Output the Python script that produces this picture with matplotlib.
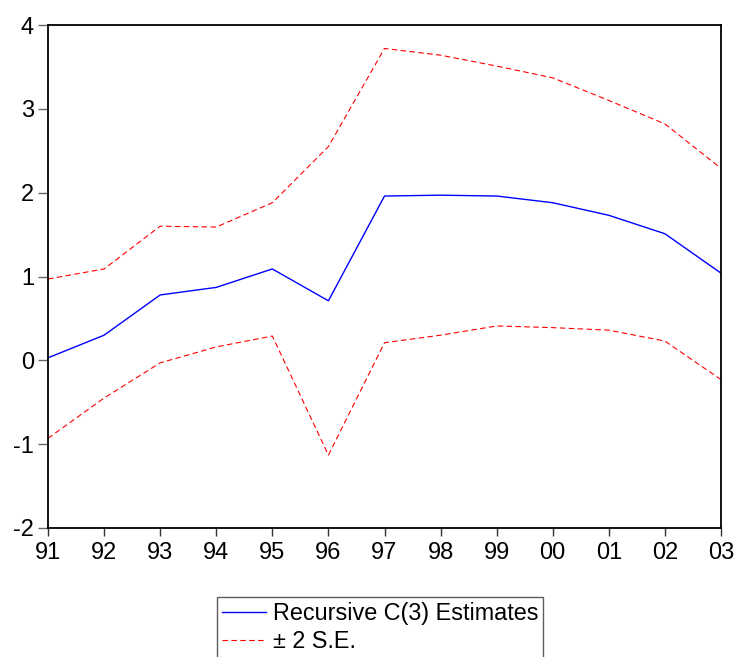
import matplotlib
matplotlib.use("Agg")
import matplotlib.pyplot as plt

plt.rcParams['font.family'] = ['Liberation Sans', 'DejaVu Sans']

years = ["91", "92", "93", "94", "95", "96", "97", "98", "99", "00", "01", "02", "03"]
estimate = [0.03, 0.30, 0.78, 0.87, 1.09, 0.71, 1.96, 1.97, 1.96, 1.88, 1.73, 1.51, 1.04]
upper = [0.97, 1.09, 1.60, 1.59, 1.88, 2.55, 3.72, 3.64, 3.51, 3.37, 3.10, 2.82, 2.29]
lower = [-0.93, -0.45, -0.03, 0.16, 0.29, -1.13, 0.21, 0.30, 0.41, 0.39, 0.36, 0.23, -0.23]
yticks = [-2, -1, 0, 1, 2, 3, 4]
ytick_labels = ["-2", "-1", "0", "1", "2", "3", "4"]

fig = plt.figure(figsize=(7.34, 6.57), dpi=100)
ax = fig.add_axes([48/734, 1-528/657, (721-48)/734, (528-25)/657])

x = list(range(len(years)))
l1, = ax.plot(x, estimate, color='#0000ff', lw=1.0, label='Recursive C(3) Estimates')
l2, = ax.plot(x, upper, color='#ff0000', lw=0.8, linestyle=(0, (5, 3)), label='± 2 S.E.')
ax.plot(x, lower, color='#ff0000', lw=0.8, linestyle=(0, (5, 3)))

ax.set_xlim(0, len(years) - 1)
ax.set_ylim(-2, 4)
ax.set_xticks(x)
ax.set_xticklabels(years)
ax.set_yticks(yticks)
ax.set_yticklabels(ytick_labels)

for s in ax.spines.values():
    s.set_linewidth(1.3)
    s.set_color('black')
ax.tick_params(axis='x', direction='out', length=6, width=1.0, pad=4, labelsize=17, color='#333333')
ax.tick_params(axis='y', direction='out', length=7, width=1.0, pad=3, labelsize=17, color='#666666')

leg = fig.legend(handles=[l1, l2], loc='upper left',
                 bbox_to_anchor=(217/734, 1-597/657),
                 bbox_transform=fig.transFigure,
                 fontsize=16.8, frameon=True, fancybox=False,
                 handlelength=1.9, handletextpad=0.3, borderpad=0.2,
                 labelspacing=0.25, borderaxespad=0)
leg.get_frame().set_edgecolor('#333333')
leg.get_frame().set_linewidth(1.0)

fig.savefig('out.png', dpi=100)
